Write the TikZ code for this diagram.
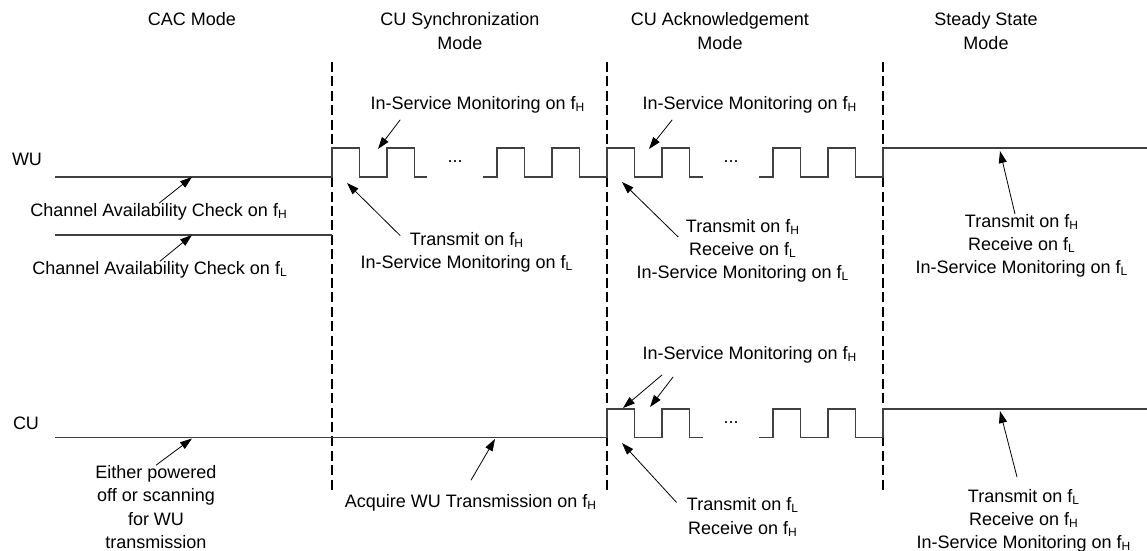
\documentclass[tikz,border=0pt]{standalone}
\usepackage{fontspec}
\setmainfont{Liberation Sans}
\usetikzlibrary{arrows.meta,calc}

\newcommand{\fH}{f\textsubscript{H}}
\newcommand{\fL}{f\textsubscript{L}}

\tikzset{
  signal/.style={draw=black!75, line width=0.6pt},
  modeline/.style={line width=1.4pt, dash pattern=on 5pt off 2.2pt},
  pointer/.style={-{Triangle[length=6pt,width=4pt]}, line width=0.4pt},
  txt/.style={align=center, inner sep=0pt},
}

\begin{document}
\begin{tikzpicture}[x=0.5pt, y=-0.5pt, font=\fontsize{9}{11.6}\selectfont]
    \useasboundingbox (0,0) rectangle (1147,551);
    %% mode titles
    \node[txt] (cac)    at (192,19) {CAC Mode};
    \node[txt] (sync)   at (460,31) {CU Synchronization\\Mode};
    \node[txt] (ack)    at (720,31) {CU Acknowledgement\\Mode};
    \node[txt] (steady) at (986,31) {Steady State\\Mode};
    %% mode borders
    \foreach \x in {332,607,883}
        \draw[modeline] (\x,62) -- (\x,490);
    %% unit names
    \node[txt] (wu) at (27,159) {WU};
    \node[txt] (cu) at (26,423) {CU};
    %% WU signal
    \draw[signal] (55,235) -- (332,235);
    \draw[signal] (55,177) -- (332,177) -- (332,148) -- (359.5,148) -- (359.5,177) -- (387,177)
        -- (387,148) -- (414.5,148) -- (414.5,177) -- (427,177);
    \draw[signal] (483,177) -- (497,177) -- (497,148) -- (524.5,148) -- (524.5,177) -- (552,177)
        -- (552,148) -- (579.5,148) -- (579.5,177) -- (607,177) -- (607,148) -- (634.5,148)
        -- (634.5,177) -- (662,177) -- (662,148) -- (689.5,148) -- (689.5,177) -- (703,177);
    \draw[signal] (759,177) -- (773,177) -- (773,148) -- (800.5,148) -- (800.5,177) -- (828,177)
        -- (828,148) -- (855.5,148) -- (855.5,177) -- (883,177) -- (883,148) -- (1147,148);
    \node[txt] (wudotsa) at (455,162) {...};
    \node[txt] (wudotsb) at (731,162) {...};
    %% CU signal
    \draw[signal] (55,437.5) -- (607,437.5) -- (607,409) -- (634.5,409) -- (634.5,437.5) -- (662,437.5)
        -- (662,409) -- (689.5,409) -- (689.5,437.5) -- (703,437.5);
    \draw[signal] (759,437.5) -- (773,437.5) -- (773,409) -- (800.5,409) -- (800.5,437.5) -- (828,437.5)
        -- (828,409) -- (855.5,409) -- (855.5,437.5) -- (883,437.5) -- (883,409) -- (1147,409);
    \node[txt] (cudots) at (731,423) {...};
    %% arrow tips on the signals
    \coordinate (tipcach)   at (192,177);
    \coordinate (tipcacl)   at (192,235);
    \coordinate (tipsyncism) at (378,149);
    \coordinate (tipsynctx) at (347,183);
    \coordinate (tipackism) at (649,149);
    \coordinate (tipacktx)  at (622,182);
    \coordinate (tipsteady) at (1000,151);
    \coordinate (tipidle)   at (192,438.5);
    \coordinate (tipacq)    at (495,439);
    \coordinate (tipcuisma) at (623,408);
    \coordinate (tipcuismb) at (650,407);
    \coordinate (tipcutx)   at (622,443);
    \coordinate (tipcustdy) at (1000,411);
    %% WU labels
    \node[txt] (cach) at (159,212) {Channel Availability Check on \fH};
    \node[txt] (cacl) at (160,270) {Channel Availability Check on \fL};
    \node[txt] (syncism) at (478,105) {In-Service Monitoring on \fH};
    \node[txt] (synctx) at (467,252) {Transmit on \fH\\In-Service Monitoring on \fL};
    \node[txt] (ackism) at (750,105) {In-Service Monitoring on \fH};
    \node[txt] (acktx) at (743,251) {Transmit on \fH\\Receive on \fL\\In-Service Monitoring on \fL};
    \node[txt] (steadywu) at (1022,246) {Transmit on \fH\\Receive on \fL\\In-Service Monitoring on \fL};
    \draw[pointer] (cach.north) -- (tipcach);
    \draw[pointer] (cacl.north) -- (tipcacl);
    \draw[pointer] ([xshift=15pt,yshift=-3pt]syncism.south west) -- (tipsyncism);
    \draw[pointer] ([xshift=20pt,yshift=-2pt]synctx.north west) -- (tipsynctx);
    \draw[pointer] ([xshift=15pt,yshift=-3pt]ackism.south west) -- (tipackism);
    \draw[pointer] ([xshift=21pt,yshift=-9pt]acktx.north west) -- (tipacktx);
    \draw[pointer] ([xshift=-3.5pt]steadywu.north) -- (tipsteady);
    %% CU labels
    \node[txt] (cuidle) at (156,507) {Either powered\\off or scanning\\for WU\\transmission};
    \node[txt] (cuacq) at (471,503) {Acquire WU Transmission on \fH};
    \node[txt] (cuism) at (750,355) {In-Service Monitoring on \fH};
    \node[txt] (cutx) at (743,517) {Transmit on \fL\\Receive on \fH};
    \node[txt] (custeady) at (1024,521) {Transmit on \fL\\Receive on \fH\\In-Service Monitoring on \fH};
    \draw[pointer] (cuidle.north) -- (tipidle);
    \draw[pointer] ([yshift=7pt]cuacq.north) -- (tipacq);
    \draw[pointer] ([xshift=10pt,yshift=-5.5pt]cuism.south west) -- (tipcuisma);
    \draw[pointer] ([xshift=15.5pt,yshift=-6.5pt]cuism.south west) -- (tipcuismb);
    \draw[pointer] ([xshift=-5pt,yshift=-2.5pt]cutx.north west) -- (tipcutx);
    \draw[pointer] ([xshift=-3.5pt,yshift=6pt]custeady.north) -- (tipcustdy);
\end{tikzpicture}
\end{document}
